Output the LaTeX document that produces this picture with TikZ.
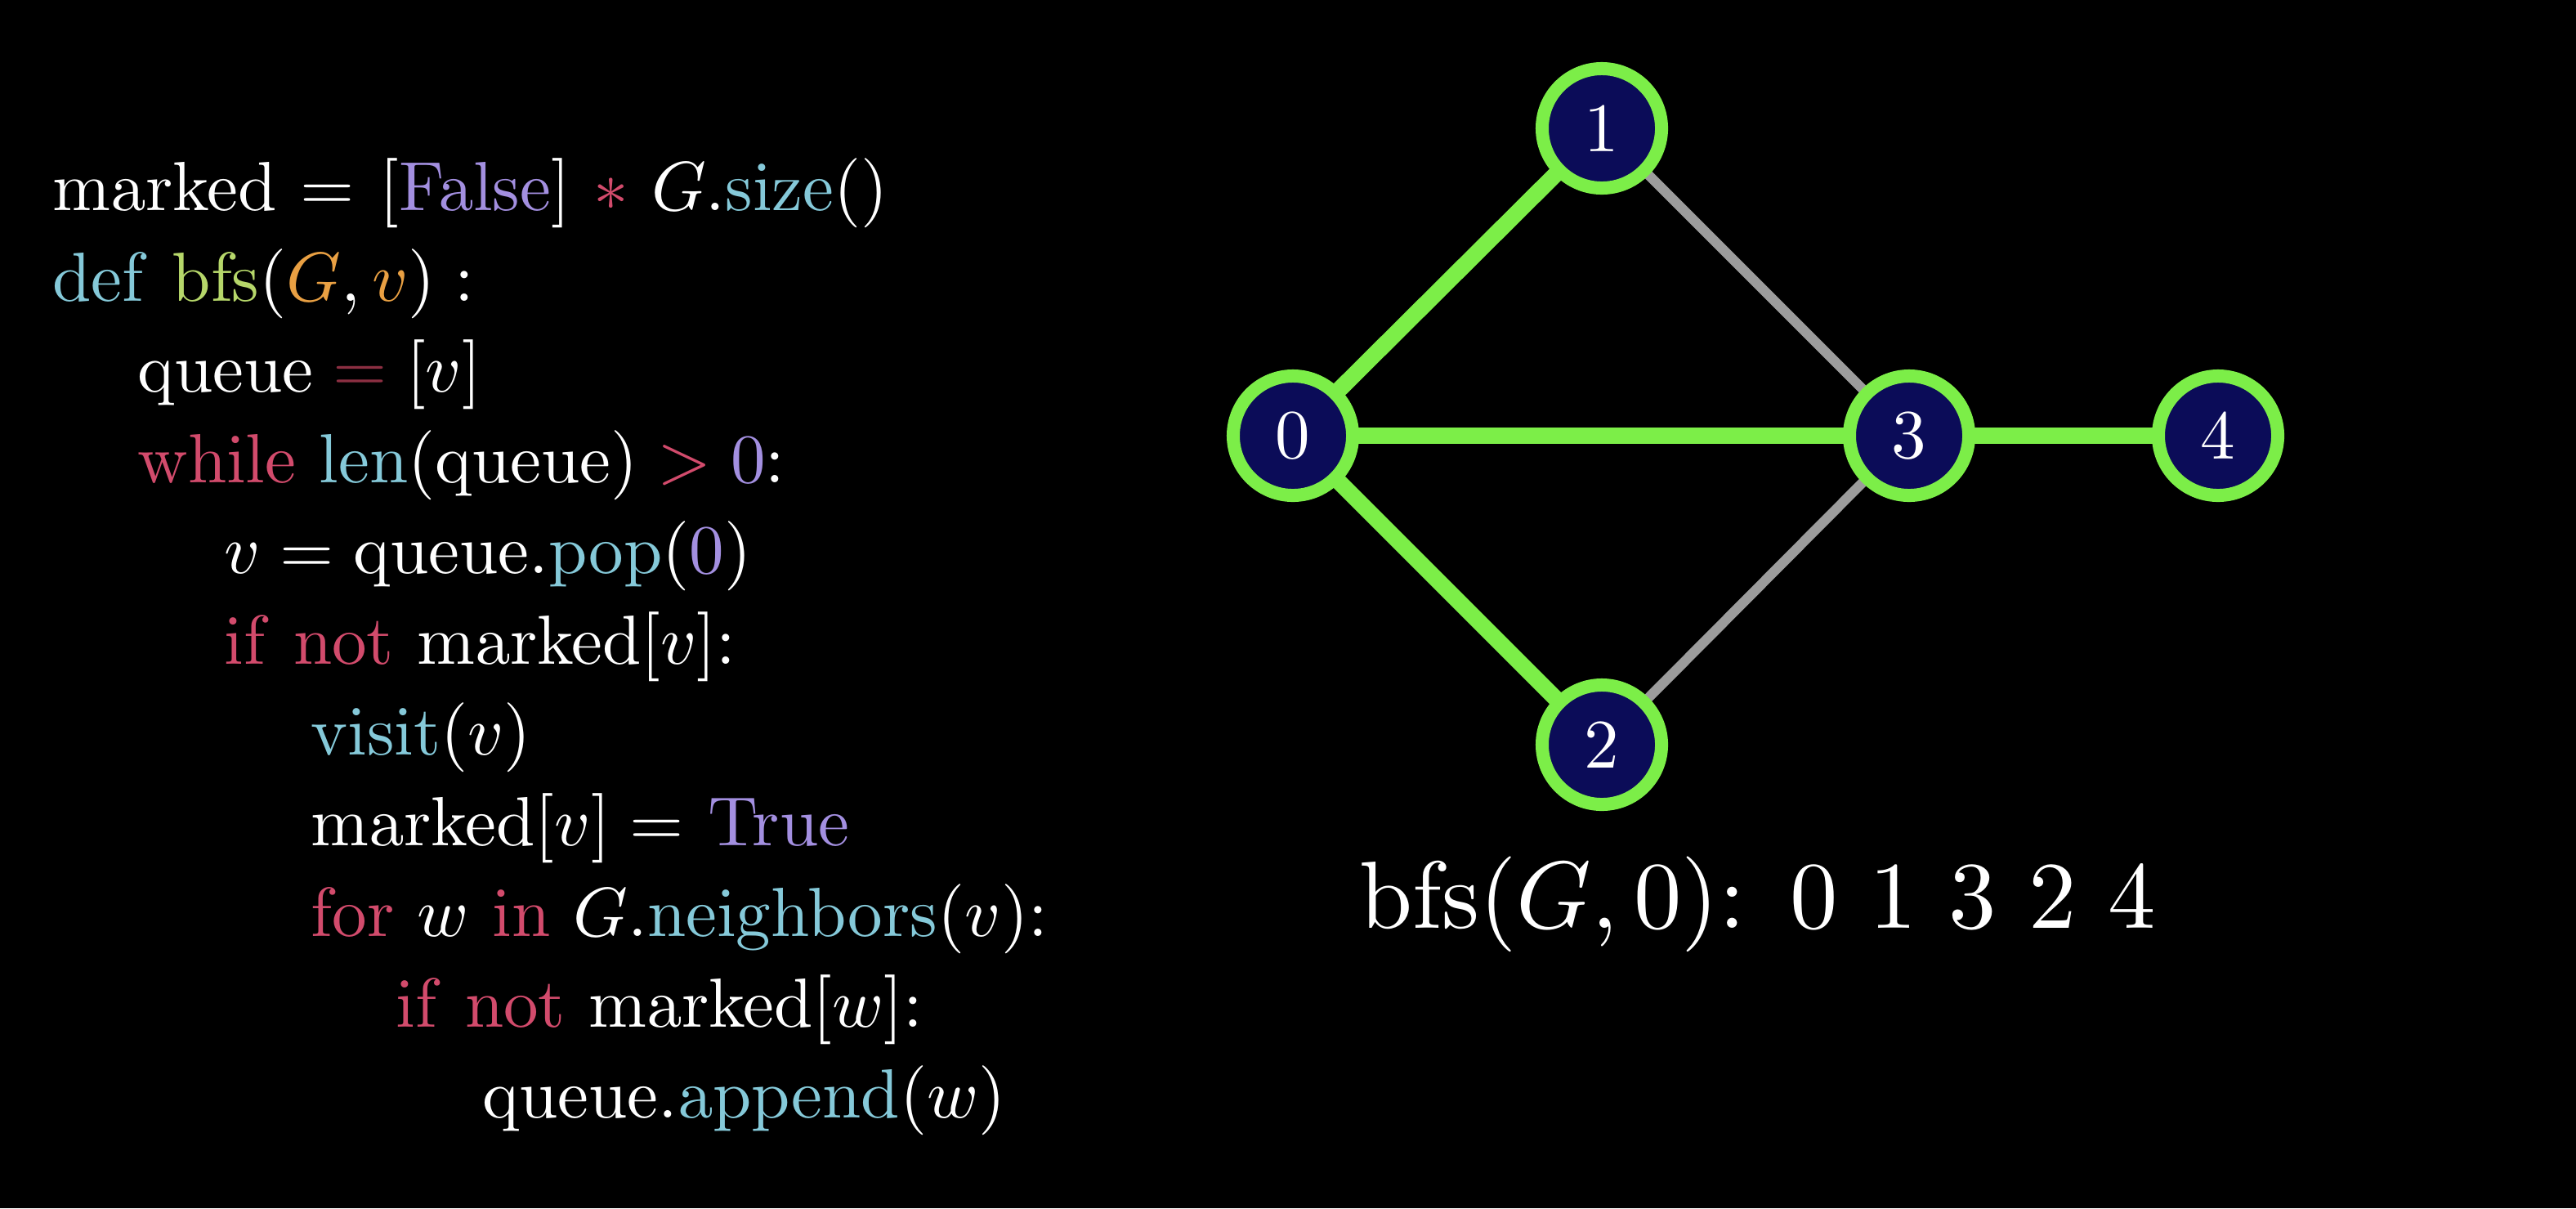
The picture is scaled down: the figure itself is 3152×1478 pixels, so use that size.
\documentclass[tikz,border=0pt]{standalone}
\usepackage{graphicx}
\usepackage{xcolor}
\definecolor{cpurple}{HTML}{A38FE0}
\definecolor{cred}{HTML}{D24B6C}
\definecolor{cblue}{HTML}{85C9D9}
\definecolor{clime}{HTML}{B6D76A}
\definecolor{corange}{HTML}{E9A043}
\definecolor{cdimred}{HTML}{8C2F42}
\definecolor{vnavy}{HTML}{0B0C58}
\definecolor{vgreen}{HTML}{7CEE48}
\definecolor{egray}{HTML}{9C9C9C}
\newcommand{\mycode}[1]{\scalebox{2.42}{\fontsize{10}{12}\selectfont #1}}
\newcommand{\myres}[1]{\scalebox{3.32}{\fontsize{10}{12}\selectfont #1}}
\pgfdeclarelayer{bg}
\pgfdeclarelayer{edgelayer}
\pgfsetlayers{bg,edgelayer,main}
\tikzset{
  codeline/.style={anchor=base west, inner sep=0pt, text=white},
  vertex/.style={circle, fill=vnavy, draw=vgreen, line width=0.16cm, minimum size=1.46cm, inner sep=0pt, text=white},
  visited/.style={draw=vgreen, line width=0.2cm},
  unvisited/.style={draw=egray, line width=0.12cm},
  result/.style={anchor=base west, inner sep=0pt, text=white}
}
\begin{document}
\begin{tikzpicture}[x=0.01cm, y=-0.01cm]
\begin{pgfonlayer}{bg}
\fill[black] (0,0) rectangle (3152,1478);
\end{pgfonlayer}
\useasboundingbox (0,0) rectangle (3152,1478);

% code
\node[codeline] (l1) at (64,257) {\mycode{$\mathrm{marked}\mkern1mu = \mkern1.5mu[{\color{cpurple}\mathrm{False}}]\mkern2mu \mathbin{\color{cred}\ast}\mkern2mu G.{\color{cblue}\mathrm{size}}()$}};
\node[codeline] (l2) at (64,368) {\mycode{$ {\color{cblue}\mathrm{def}}\ {\color{clime}\mathrm{bfs}}({\color{corange}G}, {\color{corange}v})\;{:}$}};
\node[codeline] (l3) at (168,479) {\mycode{$\mathrm{queue} \mathrel{\color{cdimred}=} [v]$}};
\node[codeline] (l4) at (168,590) {\mycode{$ {\color{cred}\mathrm{while}}\ {\color{cblue}\mathrm{len}}(\mathrm{queue}) \mathrel{\color{cred}>} {\color{cpurple}0}{:}$}};
\node[codeline] (l5) at (274,701) {\mycode{$v = \mathrm{queue}.{\color{cblue}\mathrm{pop}}({\color{cpurple}0})$}};
\node[codeline] (l6) at (274,812) {\mycode{$ {\color{cred}\mathrm{if\ not}}\ \mathrm{marked}[v]{:}$}};
\node[codeline] (l7) at (380,923) {\mycode{$ {\color{cblue}\mathrm{visit}}(v)$}};
\node[codeline] (l8) at (380,1034) {\mycode{$\mathrm{marked}[v] = \mkern1.3mu{\color{cpurple}\mathrm{True}}$}};
\node[codeline] (l9) at (380,1145) {\mycode{$ {\color{cred}\mathrm{for}}\ w\ {\color{cred}\mathrm{in}}\ G.{\color{cblue}\mathrm{neighbors}}(v){:}$}};
\node[codeline] (l10) at (484,1256) {\mycode{$ {\color{cred}\mathrm{if\ not}}\ \mathrm{marked}[w]{:}$}};
\node[codeline] (l11) at (590,1367) {\mycode{$\mathrm{queue}.{\color{cblue}\mathrm{append}}(w)$}};

% graph
\node[vertex] (n0) at (1582,533) {\mycode{0}};
\node[vertex] (n1) at (1960,157) {\mycode{1}};
\node[vertex] (n2) at (1960,911) {\mycode{2}};
\node[vertex] (n3) at (2336,533) {\mycode{3}};
\node[vertex] (n4) at (2714,533) {\mycode{4}};
\begin{pgfonlayer}{edgelayer}
\draw[unvisited] (n1.center) -- (n3.center);
\draw[unvisited] (n2.center) -- (n3.center);
\draw[visited] (n0.center) -- (n1.center);
\draw[visited] (n0.center) -- (n2.center);
\draw[visited] (n0.center) -- (n3.center);
\draw[visited] (n3.center) -- (n4.center);
\end{pgfonlayer}

\node[result] (res) at (1663,1135) {\myres{$\mathrm{bfs}(G,0){:}$\hspace{0.47em}0 1 3 2 4}};
\end{tikzpicture}
\end{document}
